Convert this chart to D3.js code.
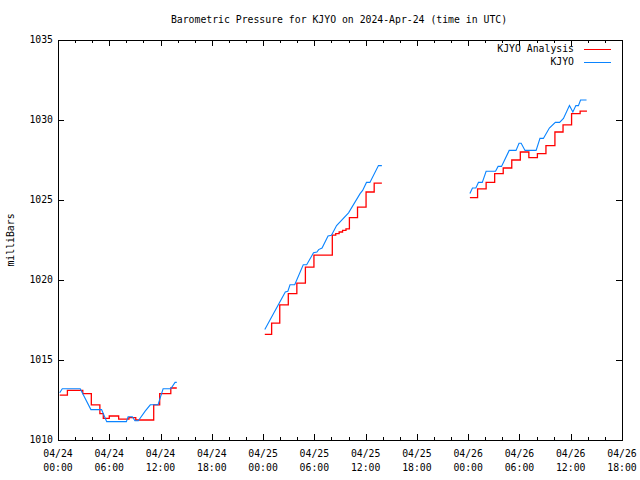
<!DOCTYPE html>
<html>
<head>
<meta charset="utf-8">
<script src="https://cdn.jsdelivr.net/npm/d3@7"></script>
<style>
  html, body { margin: 0; padding: 0; background: #fff; }
  svg { display: block; }
  text { font-family: "DejaVu Sans Mono", "Liberation Mono", monospace; font-size: 9.8px; fill: #000; }
</style>
</head>
<body>
<svg id="chart" width="640" height="480"></svg>
<script>
// ---------- data ----------
const titleText = "Barometric Pressure for KJYO on 2024-Apr-24 (time in UTC)";
const yLabel = "milliBars";
const startTime = "2024-04-24T00:00:00Z";
const endTime = "2024-04-26T18:00:00Z";
const yTicks = [1010, 1015, 1020, 1025, 1030, 1035];
const seriesNames = ["KJYO Analysis", "KJYO"];
const seriesColors = ["#ff0000", "#0a84ff"];

// hours since start; null value = gap
const analysisHours = [0.2, 1.1, 2.9, 3.9, 4.9, 5.3, 6.0, 7.1, 8.3, 9.1, 11.2, 11.9, 13.2, 13.9, 18,
  24.2, 25.0, 25.95, 26.95, 27.95, 28.95, 29.95, 32.1, 32.5, 32.9, 33.3, 33.7, 34.1, 35.05, 36.05, 37.0, 37.9, 42,
  48.2, 49.1, 50.1, 51.1, 52.1, 53.1, 54.1, 54.6, 55.1, 56.1, 57.1, 58.15, 59.1, 60.1, 61.1, 61.9];
const analysisValues = [1012.8, 1013.1, 1012.9, 1012.2, 1011.65, 1011.35, 1011.5, 1011.3, 1011.4, 1011.25, 1012.2, 1012.9, 1013.25, 1013.25, null,
  1016.6, 1017.3, 1018.45, 1019.15, 1019.8, 1020.8, 1021.55, 1022.8, 1022.9, 1023.0, 1023.1, 1023.2, 1023.9, 1024.55, 1025.5, 1026.05, 1026.05, null,
  1025.15, 1025.7, 1026.1, 1026.65, 1027.0, 1027.5, 1028.0, 1028.0, 1027.65, 1027.9, 1028.4, 1029.25, 1029.7, 1030.4, 1030.55, 1030.55];

const obsHours = [0.2, 0.5, 2.6, 3.85, 5.1, 5.7, 8.0, 8.2, 8.7, 9.0, 9.4, 10.2, 10.8, 11.7, 12.3, 13.2, 13.7, 13.9, 18,
  24.2, 26.6, 26.9, 27.15, 27.7, 28.7, 29.1, 29.9, 30.3, 30.5, 30.9, 31.6, 32.0, 32.6, 34.0, 35.35, 35.65, 36.1, 36.5, 37.5, 37.9, 42,
  48.2, 48.5, 48.9, 49.2, 49.65, 50.1, 51.2, 51.5, 51.9, 52.8, 53.6, 53.95, 54.2, 54.65, 55.95, 56.4, 56.8, 57.5, 58.2, 58.7, 59.15, 59.85, 60.25, 60.6, 60.9, 61.15, 61.85];
const obsValues = [1012.95, 1013.2, 1013.2, 1011.9, 1011.9, 1011.15, 1011.15, 1011.45, 1011.45, 1011.2, 1011.2, 1011.8, 1012.2, 1012.2, 1013.2, 1013.2, 1013.6, 1013.6, null,
  1016.9, 1019.25, 1019.3, 1019.7, 1019.7, 1020.95, 1020.95, 1021.7, 1021.75, 1021.9, 1022.0, 1022.75, 1022.8, 1023.4, 1024.2, 1025.4, 1025.6, 1026.1, 1026.1, 1027.15, 1027.15, null,
  1025.4, 1025.75, 1025.75, 1026.1, 1026.1, 1026.8, 1026.8, 1027.1, 1027.1, 1028.1, 1028.1, 1028.55, 1028.55, 1028.1, 1028.1, 1028.85, 1028.85, 1029.5, 1029.85, 1029.85, 1030.1, 1030.9, 1030.5, 1030.9, 1030.9, 1031.25, 1031.25];

// ---------- layout ----------
const W = 640, H = 480;
const m = { left: 58, right: 18, top: 40, bottom: 40 };
const pw = W - m.left - m.right, ph = H - m.top - m.bottom;

const t0 = new Date(startTime), t1 = new Date(endTime);
const x = d3.scaleUtc().domain([t0, t1]).range([m.left, m.left + pw]);
const y = d3.scaleLinear().domain([1010, 1035]).range([m.top + ph, m.top]);

const svg = d3.select("#chart");
svg.append("rect").attr("width", W).attr("height", H).attr("fill", "#fff");

const toDate = h => new Date(t0.getTime() + h * 3600e3);
const mk = (hs, vs) => hs.map((h, i) => ({ t: toDate(h), v: vs[i] }));
const analysis = mk(analysisHours, analysisValues);
const obs = mk(obsHours, obsValues);

// ---------- axes (ticks inward, mirrored) ----------
const fmtD = d3.utcFormat("%m/%d"), fmtT = d3.utcFormat("%H:%M");
const majorX = d3.utcHour.every(6).range(t0, new Date(t1.getTime() + 1));
const minorX = d3.utcHour.every(2).range(t0, new Date(t1.getTime() + 1)).filter(d => d.getUTCHours() % 6 !== 0);

const bottomAxis = d3.axisBottom(x).tickValues(majorX).tickSizeInner(-6).tickSizeOuter(0).tickFormat("");
const topAxis = d3.axisTop(x).tickValues(majorX).tickSizeInner(-6).tickSizeOuter(0).tickFormat("");
const bottomMinor = d3.axisBottom(x).tickValues(minorX).tickSizeInner(-3).tickSizeOuter(0).tickFormat("");
const topMinor = d3.axisTop(x).tickValues(minorX).tickSizeInner(-3).tickSizeOuter(0).tickFormat("");
const leftAxis = d3.axisLeft(y).tickValues(yTicks).tickSizeInner(-6).tickSizeOuter(0).tickFormat("");
const rightAxis = d3.axisRight(y).tickValues(yTicks).tickSizeInner(-6).tickSizeOuter(0).tickFormat("");

const axes = svg.append("g").attr("class", "axes");
axes.append("g").attr("transform", `translate(0,${m.top + ph})`).call(bottomAxis);
axes.append("g").attr("transform", `translate(0,${m.top + ph})`).call(bottomMinor);
axes.append("g").attr("transform", `translate(0,${m.top})`).call(topAxis);
axes.append("g").attr("transform", `translate(0,${m.top})`).call(topMinor);
axes.append("g").attr("transform", `translate(${m.left},0)`).call(leftAxis);
axes.append("g").attr("transform", `translate(${m.left + pw},0)`).call(rightAxis);
axes.selectAll(".domain").remove();
axes.selectAll("line").attr("stroke", "#000").attr("shape-rendering", "crispEdges");

// frame
svg.append("rect").attr("x", m.left + 0.5).attr("y", m.top + 0.5).attr("width", pw).attr("height", ph)
  .attr("fill", "none").attr("stroke", "#000").attr("shape-rendering", "crispEdges");

// tick labels
const xl = svg.append("g");
majorX.forEach(d => {
  xl.append("text").attr("x", x(d)).attr("y", m.top + ph + 17).attr("text-anchor", "middle").text(fmtD(d));
  xl.append("text").attr("x", x(d)).attr("y", m.top + ph + 31).attr("text-anchor", "middle").text(fmtT(d));
});
const yl = svg.append("g");
yTicks.forEach(v => {
  yl.append("text").attr("x", m.left - 5).attr("y", y(v)).attr("dy", "0.35em").attr("text-anchor", "end").text(v);
});

// title and y label
svg.append("text").attr("x", 339).attr("y", 23).attr("text-anchor", "middle").text(titleText);
svg.append("text").attr("transform", `translate(14,${m.top + ph / 2}) rotate(-90)`).attr("text-anchor", "middle").text(yLabel);

// ---------- series ----------
const lineStep = d3.line().defined(d => d.v != null).x(d => x(d.t)).y(d => y(d.v)).curve(d3.curveStepAfter);
const lineLin = d3.line().defined(d => d.v != null).x(d => x(d.t)).y(d => y(d.v));

svg.append("path").datum(analysis).attr("d", lineStep).attr("fill", "none")
  .attr("stroke", seriesColors[0]).attr("stroke-width", 1.3);
svg.append("path").datum(obs).attr("d", lineLin).attr("fill", "none")
  .attr("stroke", seriesColors[1]).attr("stroke-width", 1.1);

// ---------- legend ----------
const lg = svg.append("g");
seriesNames.forEach((name, i) => {
  const ly = 49 + i * 13;
  lg.append("text").attr("x", 574).attr("y", ly).attr("dy", "0.35em").attr("text-anchor", "end").text(name);
  lg.append("line").attr("x1", 584).attr("x2", 611).attr("y1", ly + 0.5).attr("y2", ly + 0.5)
    .attr("stroke", seriesColors[i]).attr("stroke-width", 1).attr("shape-rendering", "crispEdges");
});
</script>
</body>
</html>
